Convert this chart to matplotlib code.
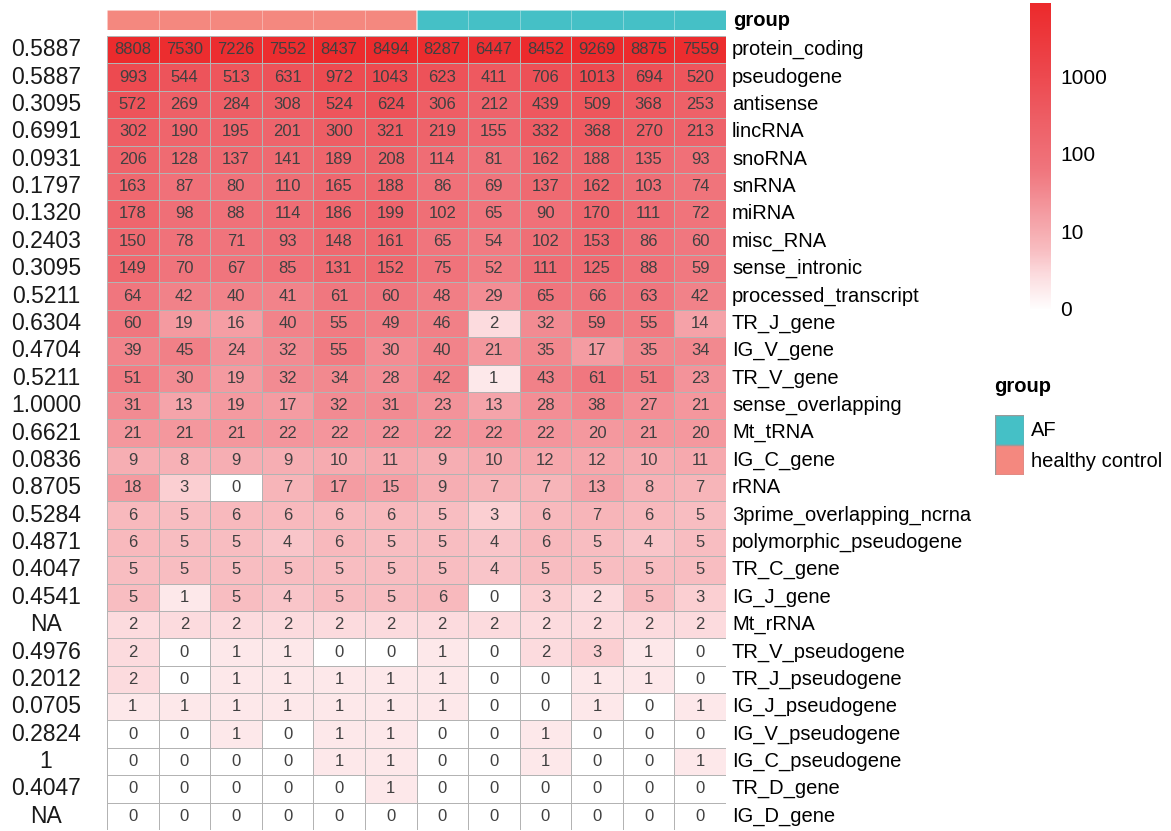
import numpy as np
import matplotlib
matplotlib.use("Agg")
import matplotlib.pyplot as plt
from matplotlib.colors import LinearSegmentedColormap, Normalize
from matplotlib.transforms import blended_transform_factory
from matplotlib.patches import Rectangle

plt.rcParams['font.family'] = ['Liberation Sans', 'DejaVu Sans']

genes = ["protein_coding", "pseudogene", "antisense", "lincRNA", "snoRNA", "snRNA",
         "miRNA", "misc_RNA", "sense_intronic", "processed_transcript", "TR_J_gene",
         "IG_V_gene", "TR_V_gene", "sense_overlapping", "Mt_tRNA", "IG_C_gene", "rRNA",
         "3prime_overlapping_ncrna", "polymorphic_pseudogene", "TR_C_gene", "IG_J_gene",
         "Mt_rRNA", "TR_V_pseudogene", "TR_J_pseudogene", "IG_J_pseudogene",
         "IG_V_pseudogene", "IG_C_pseudogene", "TR_D_gene", "IG_D_gene"]

pvalues = ["0.5887", "0.5887", "0.3095", "0.6991", "0.0931", "0.1797", "0.1320", "0.2403",
           "0.3095", "0.5211", "0.6304", "0.4704", "0.5211", "1.0000", "0.6621", "0.0836",
           "0.8705", "0.5284", "0.4871", "0.4047", "0.4541", "NA", "0.4976", "0.2012",
           "0.0705", "0.2824", "1", "0.4047", "NA"]

groups = ["healthy control"] * 6 + ["AF"] * 6

counts = [
    [8808, 7530, 7226, 7552, 8437, 8494, 8287, 6447, 8452, 9269, 8875, 7559],
    [993, 544, 513, 631, 972, 1043, 623, 411, 706, 1013, 694, 520],
    [572, 269, 284, 308, 524, 624, 306, 212, 439, 509, 368, 253],
    [302, 190, 195, 201, 300, 321, 219, 155, 332, 368, 270, 213],
    [206, 128, 137, 141, 189, 208, 114, 81, 162, 188, 135, 93],
    [163, 87, 80, 110, 165, 188, 86, 69, 137, 162, 103, 74],
    [178, 98, 88, 114, 186, 199, 102, 65, 90, 170, 111, 72],
    [150, 78, 71, 93, 148, 161, 65, 54, 102, 153, 86, 60],
    [149, 70, 67, 85, 131, 152, 75, 52, 111, 125, 88, 59],
    [64, 42, 40, 41, 61, 60, 48, 29, 65, 66, 63, 42],
    [60, 19, 16, 40, 55, 49, 46, 2, 32, 59, 55, 14],
    [39, 45, 24, 32, 55, 30, 40, 21, 35, 17, 35, 34],
    [51, 30, 19, 32, 34, 28, 42, 1, 43, 61, 51, 23],
    [31, 13, 19, 17, 32, 31, 23, 13, 28, 38, 27, 21],
    [21, 21, 21, 22, 22, 22, 22, 22, 22, 20, 21, 20],
    [9, 8, 9, 9, 10, 11, 9, 10, 12, 12, 10, 11],
    [18, 3, 0, 7, 17, 15, 9, 7, 7, 13, 8, 7],
    [6, 5, 6, 6, 6, 6, 5, 3, 6, 7, 6, 5],
    [6, 5, 5, 4, 6, 5, 5, 4, 6, 5, 4, 5],
    [5, 5, 5, 5, 5, 5, 5, 4, 5, 5, 5, 5],
    [5, 1, 5, 4, 5, 5, 6, 0, 3, 2, 5, 3],
    [2, 2, 2, 2, 2, 2, 2, 2, 2, 2, 2, 2],
    [2, 0, 1, 1, 0, 0, 1, 0, 2, 3, 1, 0],
    [2, 0, 1, 1, 1, 1, 1, 0, 0, 1, 1, 0],
    [1, 1, 1, 1, 1, 1, 1, 0, 0, 1, 0, 1],
    [0, 0, 1, 0, 1, 1, 0, 0, 1, 0, 0, 0],
    [0, 0, 0, 0, 1, 1, 0, 0, 1, 0, 0, 1],
    [0, 0, 0, 0, 0, 1, 0, 0, 0, 0, 0, 0],
    [0, 0, 0, 0, 0, 0, 0, 0, 0, 0, 0, 0],
]

cbar_ticks = [0, 10, 100, 1000]

group_colors = {"AF": "#45C0C6", "healthy control": "#F4887F"}

# ---------------- figure ----------------
W, H = 1171, 831
fig = plt.figure(figsize=(W / 100, H / 100), dpi=100)

def fr(x0, y0, x1, y1):
    return [x0 / W, 1 - y1 / H, (x1 - x0) / W, (y1 - y0) / H]

cmap = LinearSegmentedColormap.from_list(
    "wr",
    [(0.0, "#FFFFFF"), (0.12, "#FCDADD"), (0.2, "#F8BCC0"), (0.46, "#F0757D"),
     (0.62, "#EE5F66"), (0.76, "#ED4A50"), (1.0, "#EC2A2C")])

data = np.array(counts, dtype=float)
logd = np.log10(data + 1)
vmax = logd.max()
norm = Normalize(0, vmax)

nrow, ncol = data.shape
ax = fig.add_axes(fr(107, 36, 726, 830))
ax.pcolormesh(np.arange(ncol + 1), np.arange(nrow + 1), logd, cmap=cmap, norm=norm,
              edgecolors="#B3B3B3", linewidth=0.55)
ax.set_xlim(0, ncol)
ax.set_ylim(nrow, 0)
ax.axis("off")

for i in range(nrow):
    for j in range(ncol):
        ax.text(j + 0.5, i + 0.5, str(counts[i][j]), ha="center", va="center",
                fontsize=12, color="#404040")

# row labels and p-values
tr_right = blended_transform_factory(fig.transFigure, ax.transData)
for i, g in enumerate(genes):
    ax.text(732 / W, i + 0.5, g, transform=tr_right, ha="left", va="center",
            fontsize=14.5, color="black")
    ax.text(46 / W, i + 0.5, pvalues[i], transform=tr_right, ha="center", va="center",
            fontsize=16.5, color="#1a1a1a")

# group annotation bar
axg = fig.add_axes(fr(107, 10, 726, 30))
for j, g in enumerate(groups):
    axg.add_patch(Rectangle((j, 0), 1, 1, facecolor=group_colors[g],
                            edgecolor=(1, 1, 1, 0.12), linewidth=0.6))
axg.set_xlim(0, ncol)
axg.set_ylim(0, 1)
axg.axis("off")
fig.text(733 / W, 1 - 21 / H, "group", ha="left", va="center", fontsize=14.5,
         fontweight="bold")

# colorbar
axc = fig.add_axes(fr(1030, 3, 1051, 311))
grad = np.linspace(0, vmax, 300).reshape(-1, 1)
axc.imshow(grad, aspect="auto", cmap=cmap, norm=norm, origin="lower",
           extent=[0, 1, 0, vmax])
axc.set_xlim(0, 1)
axc.set_ylim(0, vmax)
axc.axis("off")
for t in cbar_ticks:
    pos = np.log10(t) if t > 0 else 0
    axc.text(1.45, pos, str(t), transform=blended_transform_factory(axc.transAxes, axc.transData),
             ha="left", va="center", fontsize=15)

# group legend
fig.text(994 / W, 1 - 387 / H, "group", ha="left", va="center", fontsize=14.5,
         fontweight="bold")
axl = fig.add_axes(fr(995, 415, 1024, 475))
axl.add_patch(Rectangle((0, 1), 1, 1, facecolor=group_colors["AF"], edgecolor="#9A9A9A",
                        linewidth=1))
axl.add_patch(Rectangle((0, 0), 1, 1, facecolor=group_colors["healthy control"],
                        edgecolor="#9A9A9A", linewidth=1))
axl.set_xlim(0, 1)
axl.set_ylim(0, 2)
axl.axis("off")
fig.text(1031 / W, 1 - 431 / H, "AF", ha="left", va="center", fontsize=14.5)
fig.text(1031 / W, 1 - 461 / H, "healthy control", ha="left", va="center", fontsize=14.5)

fig.savefig("out.png", dpi=100)
